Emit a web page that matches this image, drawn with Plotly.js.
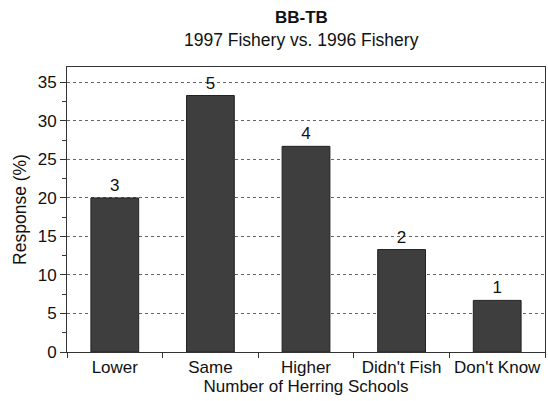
<!DOCTYPE html>
<html><head><meta charset="utf-8">
<script src="https://cdn.plot.ly/plotly-3.0.1.min.js"></script>
<style>body{margin:0;background:#fff}#c{width:548px;height:401px}</style>
</head><body><div id="c"></div>
<script>
var categories = ["Lower", "Same", "Higher", "Didn't Fish", "Don't Know"];
var responsePct = [20.0, 33.3, 26.7, 13.3, 6.7];
var counts = ["3", "5", "4", "2", "1"];
var yTicks = [0, 5, 10, 15, 20, 25, 30, 35];
var titleText = "BB-TB";
var subtitleText = "1997 Fishery vs. 1996 Fishery";

var FONT = 'Liberation Sans, Arial, sans-serif';
var trace = {
  type: 'bar', x: categories, y: responsePct, text: counts,
  textposition: 'outside', cliponaxis: false,
  textfont: {family: FONT, size: 17, color: '#111'},
  marker: {color: '#3e3e3e', line: {color: '#222', width: 1}},
  width: 0.5, hoverinfo: 'none'
};
var layout = {
  width: 548, height: 401,
  margin: {l: 67, r: 3, t: 67, b: 49},
  paper_bgcolor: '#fff', plot_bgcolor: '#fff',
  font: {family: FONT, color: '#111', size: 17},
  showlegend: false,
  annotations: [
    {text: '<b>' + titleText + '</b>', xref: 'paper', yref: 'paper', x: 0.49, y: 1, yshift: 50,
     xanchor: 'center', yanchor: 'middle', showarrow: false, font: {size: 17, color: '#111'}},
    {text: subtitleText, xref: 'paper', yref: 'paper', x: 0.49, y: 1, yshift: 27,
     xanchor: 'center', yanchor: 'middle', showarrow: false, font: {size: 17.5, color: '#111'}}
  ],
  xaxis: {
    title: {text: 'Number of Herring Schools', font: {size: 17}, standoff: 1},
    showline: true, linecolor: '#333', linewidth: 1, mirror: true,
    ticks: 'outside', tickson: 'boundaries', ticklen: 5, tickcolor: '#333',
    tickfont: {size: 17}, tickangle: 0, showgrid: false
  },
  yaxis: {
    title: {text: 'Response (%)', font: {size: 17.5}, standoff: 6},
    range: [0, 37], tickvals: yTicks, ticktext: yTicks.map(String),
    showline: true, linecolor: '#333', linewidth: 1, mirror: true,
    ticks: 'outside', ticklen: 6, tickcolor: '#333', tickfont: {size: 17},
    showgrid: true, gridcolor: '#666', griddash: 'dot', gridwidth: 1,
    minor: {dtick: 2.5, tick0: 0, ticks: 'outside', ticklen: 4, tickcolor: '#333', showgrid: false},
    zeroline: false
  },
  bargap: 0.5
};
Plotly.newPlot('c', [trace], layout, {staticPlot: true, displayModeBar: false});
</script></body></html>
